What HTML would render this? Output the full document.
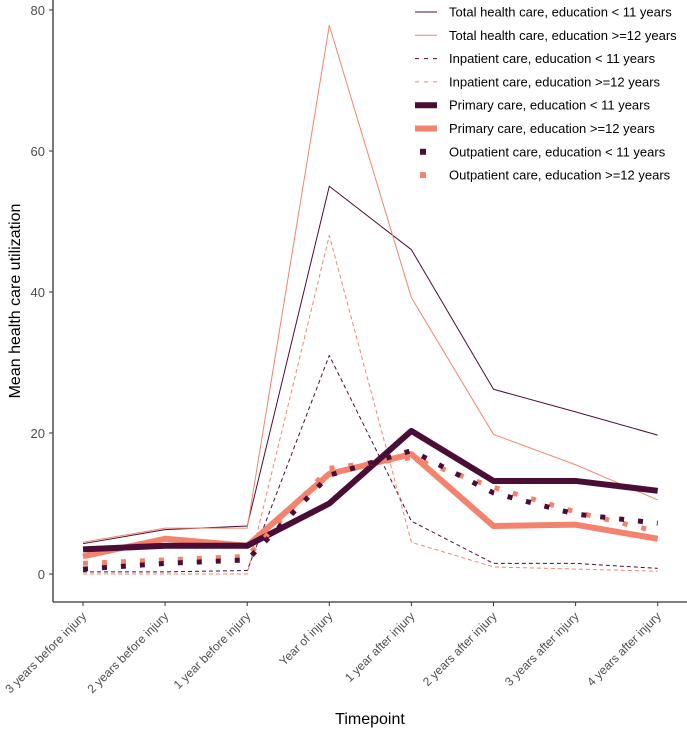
<!DOCTYPE html>
<html><head><meta charset="utf-8"><style>
body{margin:0;background:#fff;}
svg{display:block;font-family:"Liberation Sans",Arial,sans-serif;}
</style></head><body>
<svg id="chart" width="687" height="730" viewBox="0 0 687 730"></svg>
<script>
const categories=["3 years before injury","2 years before injury","1 year before injury","Year of injury","1 year after injury","2 years after injury","3 years after injury","4 years after injury"];
const totalLow=[4.3,6.3,6.8,55,46,26.2,23,19.7];
const totalHigh=[4.5,6.5,6.5,77.8,39.2,19.8,15.5,10.5];
const inpatientLow=[0.3,0.3,0.5,31,7.5,1.5,1.5,0.8];
const inpatientHigh=[0,0,0,48,4.5,1,0.7,0.4];
const primaryLow=[3.5,4,4,10,20.3,13.2,13.2,11.8];
const primaryHigh=[2.5,5,4,14.2,17,6.8,7,5];
const outpatientLow=[0.7,1.5,2,14,17.5,11.5,8.5,7.2];
const outpatientHigh=[1.5,2,2.5,15,16.5,12.3,8.8,6];
const yTicks=[0,20,40,60,80];
const legendLabels=["Total health care, education < 11 years","Total health care, education >=12 years","Inpatient care, education < 11 years","Inpatient care, education >=12 years","Primary care, education < 11 years","Primary care, education >=12 years","Outpatient care, education < 11 years","Outpatient care, education >=12 years"];

const NS="http://www.w3.org/2000/svg";
const svg=document.getElementById('chart');
const DARK="#4a0d36", LIGHT="#f4836d";
const x=i=>83+i*82.1;
const y=v=>574-v*7.05;
function el(t,a,p){const e=document.createElementNS(NS,t);for(const k in a)e.setAttribute(k,a[k]);(p||svg).appendChild(e);return e;}

const ax=el('line',{x1:53,y1:0,x2:53,y2:602,stroke:'#333','stroke-width':1.3});


const bx=el('line',{x1:53,y1:602,x2:687,y2:602,stroke:'#333','stroke-width':1.3});


yTicks.forEach(t=>{
  const tk=el('line',{x1:49,x2:53,y1:y(t),y2:y(t),stroke:'#333'});
  
  
  const tx=el('text',{x:45,y:y(t)+5,'text-anchor':'end','font-size':13,fill:'#4d4d4d'});
  tx.textContent=t;
  
  
});
categories.forEach((c,i)=>{
  const tk=el('line',{x1:x(i),x2:x(i),y1:602,y2:606,stroke:'#333'});
  
  
  const tx=el('text',{x:x(i)+4,y:617,'text-anchor':'end','font-size':12,fill:'#4d4d4d',transform:`rotate(-45 ${x(i)+4} 617)`});
  tx.textContent=c;
  
  
});
const yt=el('text',{x:20,y:301,'text-anchor':'middle','font-size':16,fill:'#000',transform:'rotate(-90 20 301)'});
yt.textContent="Mean health care utilization";


const xt=el('text',{x:370,y:724,'text-anchor':'middle','font-size':16,fill:'#000'});
xt.textContent="Timepoint";



const styles=[
 {d:totalLow,c:DARK,w:1,dash:null,n:'total-low-line'},
 {d:totalHigh,c:LIGHT,w:1,dash:null,n:'total-high-line'},
 {d:inpatientLow,c:DARK,w:1,dash:'4 3',n:'inpatient-low-line'},
 {d:inpatientHigh,c:LIGHT,w:1,dash:'4 3',n:'inpatient-high-line'},
 {d:primaryLow,c:DARK,w:6,dash:null,n:'primary-low-line'},
 {d:primaryHigh,c:LIGHT,w:6,dash:null,n:'primary-high-line'},
 {d:outpatientLow,c:DARK,w:5,dash:'5 14',n:'outpatient-low-line'},
 {d:outpatientHigh,c:LIGHT,w:5,dash:'5 14',n:'outpatient-high-line'}
];
const order=[0,1,2,3,5,4,7,6];
order.forEach(k=>{
  const s=styles[k];
  const pts=s.d.map((v,i)=>x(i)+','+y(v)).join(' ');
  const a={points:pts,fill:'none',stroke:s.c,'stroke-width':s.w,'stroke-linejoin':'round'};
  if(s.dash)a['stroke-dasharray']=s.dash;
  const p=el('polyline',a);
  
  
});
const lg=el('g',{});


legendLabels.forEach((t,i)=>{
  const s=styles[i];
  const ly=12+i*23.3;
  let m;
  if(i<6){
    const a={x1:415,x2:437,y1:ly,y2:ly,stroke:s.c,'stroke-width':s.w};
    if(s.dash)a['stroke-dasharray']='4 5';
    m=el('line',a,lg);
  } else {
    m=el('rect',{x:420,y:ly-3,width:6,height:6,fill:s.c},lg);
  }
  
  
  const tx=el('text',{x:449,y:ly+4.5,'font-size':13,fill:'#000'},lg);
  tx.textContent=t;
  
  
});
</script>
</body></html>
